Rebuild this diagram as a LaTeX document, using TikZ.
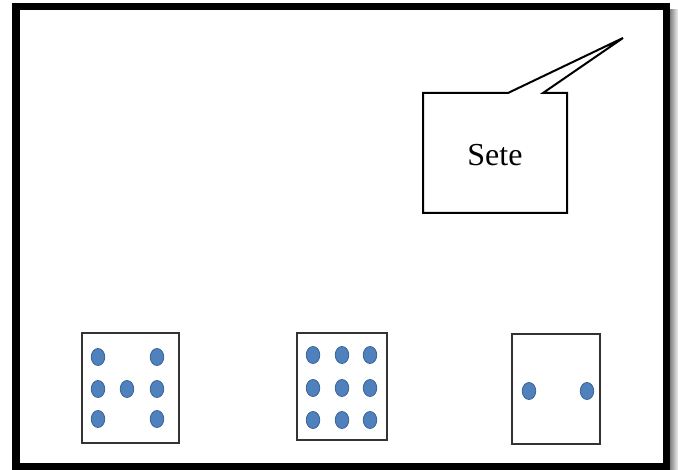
\documentclass[tikz,border=0pt]{standalone}
\usepackage{fontspec}
\setmainfont{Liberation Serif}
\usetikzlibrary{positioning,shapes.geometric}
\definecolor{dotblue}{RGB}{79,129,189}
\definecolor{dotedge}{RGB}{56,98,150}
\tikzset{
    frame/.style={
    draw=black,line width=7.5pt
    },
    die/.style={
    rectangle,draw=black!80,line width=1.3pt,inner sep=0pt
    },
    pip/.style={
    ellipse,draw=dotedge,fill=dotblue,line width=0.8pt,minimum width=13.5pt,minimum height=17pt,inner sep=0pt
    },
    callout/.style={
    draw=black,line width=2pt,fill=white,line join=miter
    },
}
\begin{document}
\begin{tikzpicture}[x=1pt,y=-1pt]
   \useasboundingbox (0,0) rectangle (678,470);
   \fill[white] (0,0) rectangle (678,470);
   % drop shadow and frame
   \shade[left color=black!60,right color=black!5] (668,10) rectangle (678,470);
   \draw[frame] (16,6.5) rectangle (666.5,466.5);

   % speech bubble
   \draw[callout] (423,93) -- (508,93) -- (623,38) -- (543,93) -- (567,93)
       -- (567,213) -- (423,213) -- cycle;
   \node[font=\fontsize{32}{38}\selectfont] (word) at (495,155) {Sete};

   % dice
   \node[die,minimum width=97pt,minimum height=110pt] (d1) at (130.5,388) {};
   \node[die,minimum width=90pt,minimum height=107pt] (d2) at (342,386.5) {};
   \node[die,minimum width=88pt,minimum height=110pt] (d3) at (556,389) {};

   \foreach \px/\py in {98/357,157/357,98/389,127/389,157/389,98/419,157/419}
     \node[pip] at (\px,\py) {};
   \foreach \px in {313,342,370}
     \foreach \py in {355,388,420}
       \node[pip] at (\px,\py) {};
   \node[pip] (p1) at (529,391) {};
   \node[pip] (p2) at (587,391) {};
  \end{tikzpicture}
\end{document}
